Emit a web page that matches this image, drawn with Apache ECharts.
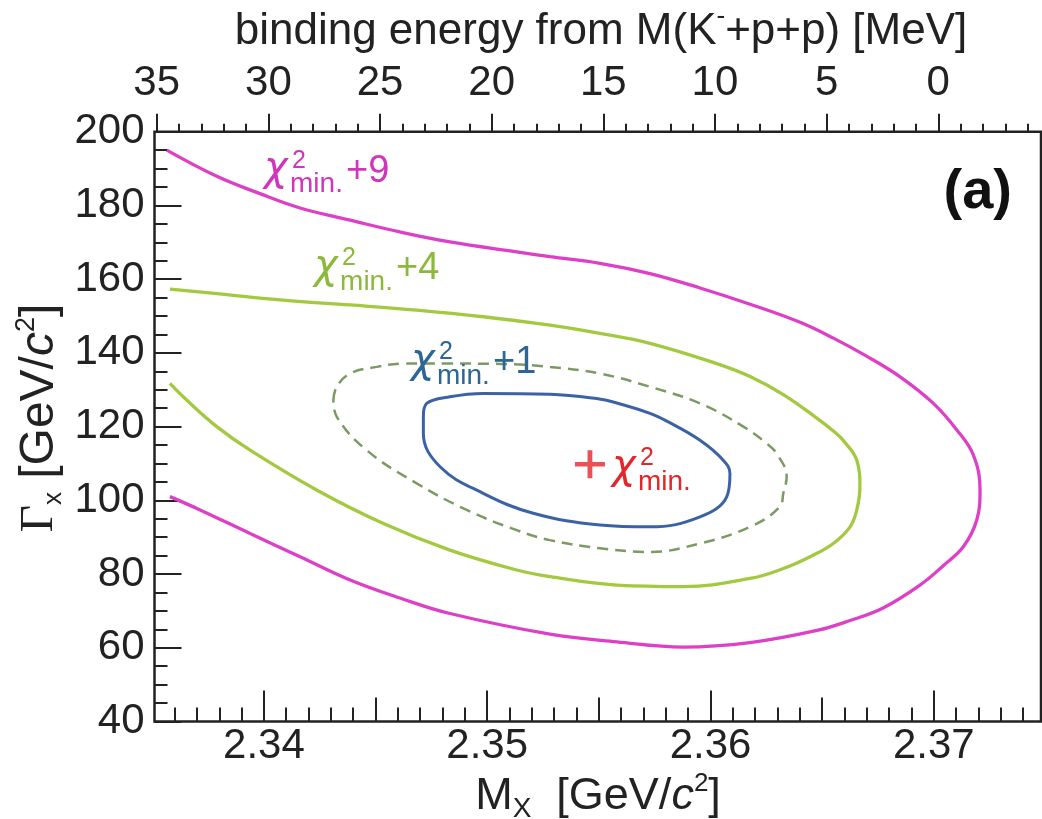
<!DOCTYPE html>
<html><head><meta charset="utf-8">
<script src="https://cdn.jsdelivr.net/npm/echarts@6/dist/echarts.min.js"></script>
<style>html,body{margin:0;padding:0;background:#fff}#c{width:1042px;height:819px}</style>
</head><body><div id="c"></div>
<script>
const FONT = "'Liberation Sans', Arial, Helvetica, sans-serif";
const SERIF = "'Liberation Serif', 'DejaVu Serif', serif";
const GREEK = "'DejaVu Sans', 'Liberation Sans', sans-serif";

// ---- axes ----
const xMin = 2.3351, xMax = 2.3748;        // M_X [GeV/c^2]
const yMin = 40, yMax = 200, yStep = 20;   // Gamma_X
const M_KPP = 2.3702;                      // M(K- + p + p) [GeV/c^2]
const xMajorTicks = [2.34, 2.35, 2.36, 2.37];
const xHalfTicks = [2.345, 2.355, 2.365];
const topMajorTicks = [35, 30, 25, 20, 15, 10, 5, 0];

// ---- contours (M_X, Gamma_X) ----
const contour9 = [[2.33565,195.0],[2.33789,187.9],[2.33982,183.2],[2.34162,179.3],[2.34386,176.0],[2.34609,172.8],[2.34833,170.1],[2.35132,167.4],[2.35281,166.1],[2.35505,164.3],[2.35729,161.5],[2.35953,157.6],[2.36177,153.2],[2.36401,148.3],[2.36550,144.0],[2.36699,139.1],[2.36849,133.5],[2.36998,126.3],[2.37103,119.1],[2.37177,112.3],[2.37207,102.8],[2.37192,94.6],[2.37132,87.4],[2.37041,82.2],[2.36938,77.0],[2.36773,70.8],[2.36625,67.4],[2.36477,64.7],[2.36177,61.4],[2.35878,60.2],[2.35580,61.6],[2.35281,63.7],[2.34833,69.3],[2.34609,73.5],[2.34386,78.4],[2.34162,84.7],[2.33938,91.0],[2.33714,97.4],[2.33579,101.0]];
const contour4 = [[2.33579,157.3],[2.33789,156.1],[2.34087,154.3],[2.34386,153.0],[2.34684,151.6],[2.34982,149.8],[2.35281,147.5],[2.35505,145.3],[2.35729,142.6],[2.36028,137.1],[2.36177,133.6],[2.36326,128.7],[2.36476,122.3],[2.36550,118.8],[2.36595,116.2],[2.36655,110.9],[2.36669,103.7],[2.36655,97.4],[2.36625,92.8],[2.36550,88.3],[2.36446,84.7],[2.36326,81.5],[2.36177,78.8],[2.35878,76.6],[2.35580,77.0],[2.35281,79.3],[2.35132,81.1],[2.34833,86.5],[2.34535,93.7],[2.34236,102.8],[2.33938,113.6],[2.33789,120.0],[2.33654,127.2],[2.33579,131.7]];
const contourDashed = [[2.34311,127.2],[2.34326,130.8],[2.34386,134.4],[2.34505,136.2],[2.34624,137.1],[2.34833,137.1],[2.35057,137.0],[2.35281,136.2],[2.35505,134.4],[2.35729,130.8],[2.35953,126.3],[2.36147,120.0],[2.36252,115.4],[2.36296,112.7],[2.36341,106.4],[2.36326,101.9],[2.36311,98.3],[2.36177,92.8],[2.35953,88.3],[2.35729,86.0],[2.35505,87.0],[2.35281,89.2],[2.35132,91.9],[2.34908,97.4],[2.34684,104.6],[2.34460,113.6],[2.34326,122.7],[2.34311,127.2]];
const contour1 = [[2.34714,122.7],[2.34729,126.3],[2.34833,128.1],[2.34982,129.0],[2.35281,128.8],[2.35490,127.6],[2.35580,126.4],[2.35729,123.6],[2.35804,121.5],[2.35953,116.3],[2.36057,110.9],[2.36087,107.3],[2.36073,101.0],[2.35953,95.5],[2.35729,92.8],[2.35505,93.3],[2.35206,96.5],[2.34982,101.9],[2.34789,109.1],[2.34714,118.2],[2.34714,122.7]];
const chi2Min = [[2.3546, 109.8]];

// ---- annotation texts (anchored at data coords) ----
const contourLabels = [
  {tail: '+9', color: '#cf36bb', at: [2.34005, 186.0]},
  {tail: '+4', color: '#8cb93c', at: [2.34229, 159.5]},
  {tail: '+1', color: '#2d6694', at: [2.34663, 134.0]},
  {tail: '',   color: '#e2262a', at: [2.35563, 105.2]}
];
const panelLabel = {text: '(a)', at: [2.37350, 183.6]};
const topTitle = ['binding energy from M(K', '-', '+p+p) [MeV]'];
const xTitle = ['M', 'X', '  [GeV/', 'c', '2', ']'];
const yTitle = ['Γ', 'x', ' [GeV/', 'c', '2', ']'];

// minor tick positions
const xMinorTicks = [];
for (let k = 2336; k <= 2374; k++) if (k % 5 !== 0) xMinorTicks.push(k / 1000);
const topMinorTicks = [];
for (let k = -4; k <= 35; k++) if (k % 5 !== 0) topMinorTicks.push(k);

const bMin = (M_KPP - xMax) * 1000, bMax = (M_KPP - xMin) * 1000;
const INK = '#222';
const tickLS = {color: INK, width: 2};

function tickAxis(extra) {
  return Object.assign({type: 'value', axisLine: {show: false, onZero: false}, splitLine: {show: false},
    axisLabel: {show: false}}, extra);
}

const chart = echarts.init(document.getElementById('c'), null, {renderer: 'canvas'});
const option = {
  animation: false,
  backgroundColor: '#fff',
  grid: {left: 154.5, right: 1, top: 131.7, bottom: 97.5, show: true, borderColor: INK, borderWidth: 2.5, outerBoundsMode: 'none'},
  xAxis: [
    tickAxis({min: xMin, max: xMax, position: 'bottom',
      axisTick: {show: true, inside: true, length: 31, customValues: xMajorTicks, lineStyle: tickLS},
      axisLabel: {show: true, customValues: xMajorTicks, formatter: v => v.toFixed(2), fontSize: 42, fontFamily: FONT, color: INK, margin: 4}}),
    tickAxis({min: xMin, max: xMax, position: 'bottom',
      axisTick: {show: true, inside: true, length: 24, customValues: xHalfTicks, lineStyle: tickLS}}),
    tickAxis({min: xMin, max: xMax, position: 'bottom',
      axisTick: {show: true, inside: true, length: 14, customValues: xMinorTicks, lineStyle: tickLS}}),
    tickAxis({min: bMin, max: bMax, inverse: true, position: 'top',
      axisTick: {show: true, inside: false, length: 18, customValues: topMajorTicks, lineStyle: tickLS},
      axisLabel: {show: true, customValues: topMajorTicks, formatter: v => String(Math.round(v)), fontSize: 42, fontFamily: FONT, color: INK, margin: 27}}),
    tickAxis({min: bMin, max: bMax, inverse: true, position: 'top',
      axisTick: {show: true, inside: false, length: 8, customValues: topMinorTicks, lineStyle: tickLS}})
  ],
  yAxis: [{type: 'value', min: yMin, max: yMax, interval: yStep, position: 'left',
    axisLine: {show: false, onZero: false}, splitLine: {show: false},
    axisTick: {show: true, inside: true, length: 27, lineStyle: tickLS},
    minorTick: {show: true, splitNumber: 4, length: 13, lineStyle: tickLS},
    axisLabel: {fontSize: 42, fontFamily: FONT, color: INK, margin: 10}}],
  series: [
    {type: 'line', data: contour9, symbol: 'none', smooth: 0.4, lineStyle: {color: '#dd3fc6', width: 3.3}},
    {type: 'line', data: contour4, symbol: 'none', smooth: 0.4, lineStyle: {color: '#a3c940', width: 3.3}},
    {type: 'line', data: contourDashed, symbol: 'none', smooth: 0.4, lineStyle: {color: '#7c9a64', width: 2.5, type: [11, 7]}},
    {type: 'line', data: contour1, symbol: 'none', smooth: 0.4, lineStyle: {color: '#3b62a5', width: 3}},
    {type: 'scatter', data: chi2Min, symbol: 'path://M4.2,0 H5.8 V4.2 H10 V5.8 H5.8 V10 H4.2 V5.8 H0 V4.2 H4.2 Z',
      symbolSize: [30, 28], itemStyle: {color: '#e5262a'}, z: 5}
  ]
};
chart.setOption(option);

// ---- text layout helpers ----
const MID = 0.3465;
const mctx = document.createElement('canvas').getContext('2d');
function fontStr(p) { return (p.style || 'normal') + ' ' + (p.weight || 'normal') + ' ' + p.size + 'px ' + (p.family || FONT); }
function measure(p) { mctx.font = fontStr(p); return mctx.measureText(p.t).width; }
function textEl(x, base, p) {
  return {type: 'text', x: x, y: base - MID * p.size, silent: true, z: 10,
    style: {text: p.t, fontSize: p.size, fontFamily: p.family || FONT, fontStyle: p.style || 'normal',
      fontWeight: p.weight || 'normal', fill: p.color || INK, align: p.align || 'left', verticalAlign: 'middle'}};
}
function seqWidth(parts) { return parts.reduce((s, p) => s + (p.dx || 0) + measure(p), 0); }
function seq(parts, x0, base) {
  let x = x0; const els = [];
  parts.forEach(p => { x += (p.dx || 0); els.push(textEl(x, base + (p.dy || 0), p)); x += measure(p); });
  return els;
}

const g = [];
// contour labels: chi^2_min. + n
contourLabels.forEach(l => {
  const [px, py] = chart.convertToPixel({xAxisIndex: 0, yAxisIndex: 0}, l.at);
  g.push(textEl(px - 1, py, {t: 'χ', size: 40, color: l.color, family: GREEK, style: 'italic'}));
  g.push(textEl(px + 27, py - 14, {t: '2', size: 25, color: l.color}));
  g.push(textEl(px + 25, py + 11, {t: 'min.', size: 28, color: l.color}));
  if (l.tail) g.push(textEl(px + 81, py + 1, {t: l.tail, size: 38, color: l.color}));
});
// panel label
{
  const [px, py] = chart.convertToPixel({xAxisIndex: 0, yAxisIndex: 0}, panelLabel.at);
  g.push(textEl(px, py + 20, {t: panelLabel.text, size: 56, weight: 'bold', align: 'right', color: '#111'}));
}
// top title
{
  const parts = [{t: topTitle[0], size: 44}, {t: topTitle[1], size: 26, dy: -21}, {t: topTitle[2], size: 44}];
  const w = seqWidth(parts);
  g.push(...seq(parts, 601 - w / 2, 47));
}
// x title
{
  const parts = [{t: xTitle[0], size: 45}, {t: xTitle[1], size: 28, dy: 7}, {t: xTitle[2], size: 45},
    {t: xTitle[3], size: 45, style: 'italic'}, {t: xTitle[4], size: 26, dy: -19}, {t: xTitle[5], size: 45}];
  const w = seqWidth(parts);
  g.push(...seq(parts, 598 - w / 2, 812));
}
// y title (rotated)
{
  const parts = [{t: yTitle[0], size: 47, family: SERIF}, {t: yTitle[1], size: 26, dy: 7}, {t: yTitle[2], size: 48},
    {t: yTitle[3], size: 48, style: 'italic'}, {t: yTitle[4], size: 27, dy: -20}, {t: yTitle[5], size: 48}];
  const w = seqWidth(parts);
  g.push({type: 'group', x: 56, y: 418, rotation: Math.PI / 2, children: seq(parts, -w / 2, 0)});
}
chart.setOption({graphic: g});
</script>
</body></html>
